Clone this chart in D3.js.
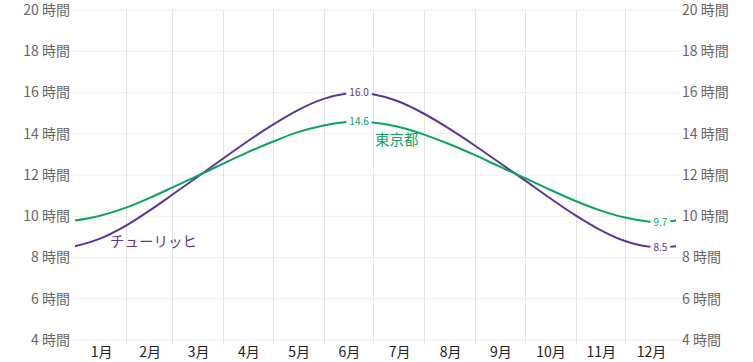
<!DOCTYPE html>
<html>
<head>
<meta charset="utf-8">
<script src="https://cdn.jsdelivr.net/npm/d3@7"></script>
<style>
  body { margin: 0; background: #fff; }
  svg { font-family: "Noto Sans CJK JP", "Noto Sans", sans-serif; }
</style>
</head>
<body>
<svg id="chart" width="753" height="362"></svg>
<script>
// dates the values were read at (1st and 15th of each month, plus solstices)
const dates = [
  '2023-01-01','2023-01-15','2023-02-01','2023-02-15','2023-03-01','2023-03-15',
  '2023-04-01','2023-04-15','2023-05-01','2023-05-15','2023-06-01','2023-06-15',
  '2023-06-21','2023-07-01','2023-07-15','2023-08-01','2023-08-15','2023-09-01',
  '2023-09-15','2023-10-01','2023-10-15','2023-11-01','2023-11-15','2023-12-01',
  '2023-12-15','2023-12-21','2024-01-01'
];

// day length in hours
const zurich = [8.55, 8.88, 9.55, 10.26, 11.04, 11.83, 12.80, 13.59, 14.43, 15.09, 15.69, 15.95,
  16.0, 15.92, 15.61, 14.97, 14.31, 13.42, 12.64, 11.75, 10.96, 10.04, 9.38, 8.80, 8.53, 8.5, 8.55];
const tokyo = [9.79, 10.00, 10.42, 10.88, 11.39, 11.91, 12.55, 13.07, 13.61, 14.04, 14.40, 14.57,
  14.6, 14.55, 14.36, 13.96, 13.54, 12.96, 12.44, 11.86, 11.34, 10.74, 10.31, 9.94, 9.75, 9.7, 9.79];

const months = ['1月','2月','3月','4月','5月','6月','7月','8月','9月','10月','11月','12月'];
const yTicks = [4, 6, 8, 10, 12, 14, 16, 18, 20];

const series = [
  { name: 'チューリッヒ', values: zurich, colour: '#5b3696', nameAt: [110, 242], marks: ['2023-06-21', '2023-12-21'] },
  { name: '東京都', values: tokyo, colour: '#0ba35e', nameAt: [375, 140], marks: ['2023-06-21', '2023-12-21'] }
];

const svg = d3.select('#chart');
const parseDate = d3.utcParse('%Y-%m-%d');
const fmtDate = d3.utcFormat('%Y-%m-%d');

const xScale = d3.scaleUtc()
  .domain([parseDate('2023-01-01'), parseDate('2024-01-01')])
  .range([75, 676]);

const yScale = d3.scaleLinear()
  .domain([4, 20])
  .range([340, 10]);

// horizontal grid
svg.append('g')
  .selectAll('line')
  .data(yTicks)
  .join('line')
    .attr('x1', 72)
    .attr('x2', 680)
    .attr('y1', d => yScale(d))
    .attr('y2', d => yScale(d))
    .attr('stroke', '#eeeeee')
    .attr('stroke-width', 1);

// vertical grid at month starts (Feb .. Dec)
const monthStarts = d3.range(1, 12).map(m => new Date(Date.UTC(2023, m, 1)));
svg.append('g')
  .selectAll('line')
  .data(monthStarts)
  .join('line')
    .attr('x1', d => Math.round(xScale(d)) + 0.5)
    .attr('x2', d => Math.round(xScale(d)) + 0.5)
    .attr('y1', 10)
    .attr('y2', 345)
    .attr('stroke', '#e4e4e4')
    .attr('stroke-width', 1);

// y labels on both sides
const yLabel = d => `${d} 時間`;
svg.append('g')
  .selectAll('text')
  .data(yTicks)
  .join('text')
    .attr('x', 70)
    .attr('y', d => yScale(d))
    .attr('dy', '0.35em')
    .attr('text-anchor', 'end')
    .attr('font-size', 14)
    .attr('fill', '#666')
    .text(yLabel);

svg.append('g')
  .selectAll('text')
  .data(yTicks)
  .join('text')
    .attr('x', 682)
    .attr('y', d => yScale(d))
    .attr('dy', '0.35em')
    .attr('font-size', 14)
    .attr('fill', '#666')
    .text(yLabel);

// month labels centred in each month
svg.append('g')
  .selectAll('text')
  .data(months)
  .join('text')
    .attr('x', (d, i) => (xScale(new Date(Date.UTC(2023, i, 1))) + xScale(new Date(Date.UTC(2023, i + 1, 1)))) / 2 + 1)
    .attr('y', 352)
    .attr('dy', '0.35em')
    .attr('text-anchor', 'middle')
    .attr('font-size', 14)
    .attr('fill', '#222')
    .text(d => d);

const line = d3.line()
  .x(d => xScale(d.date))
  .y(d => yScale(d.value))
  .curve(d3.curveMonotoneX);

series.forEach(s => {
  const pts = dates.map((d, i) => ({ date: parseDate(d), value: s.values[i] }));
  const g = svg.append('g');

  g.append('path')
    .datum(pts)
    .attr('d', line)
    .attr('fill', 'none')
    .attr('stroke', s.colour)
    .attr('stroke-width', 2);

  // value labels with a white gap in the line
  const marks = pts.filter(p => s.marks.includes(fmtDate(p.date)));
  const lbl = g.selectAll('.val').data(marks).join('g')
    .attr('class', 'val')
    .attr('transform', p => `translate(${xScale(p.date) + 2.5},${yScale(p.value)})`);
  const bg = lbl.append('rect')
    .attr('fill', '#fff');
  const txt = lbl.append('text')
    .attr('text-anchor', 'middle')
    .attr('dy', '0.35em')
    .attr('font-size', 10)
    .attr('fill', s.colour)
    .text(p => p.value.toFixed(1));
  txt.each(function (p, i) {
    const w = this.getComputedTextLength() + 6;
    d3.select(bg.nodes()[i])
      .attr('x', -w / 2)
      .attr('y', -6)
      .attr('width', w)
      .attr('height', 12);
  });

  g.append('text')
    .attr('x', s.nameAt[0])
    .attr('y', s.nameAt[1])
    .attr('dy', '0.35em')
    .attr('font-size', 14.5)
    .attr('fill', s.colour)
    .text(s.name);
});
</script>
</body>
</html>
